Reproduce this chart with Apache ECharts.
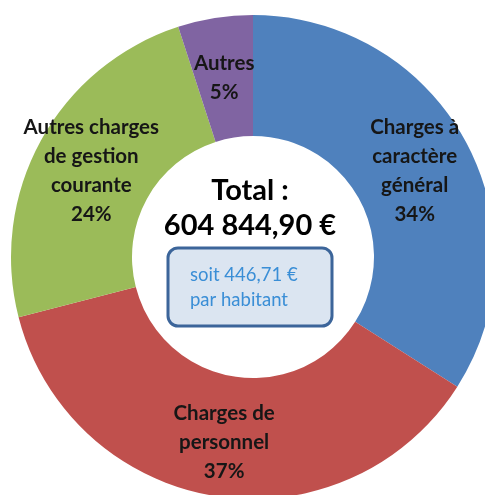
<!DOCTYPE html>
<html>
<head>
<meta charset="utf-8">
<script src="https://cdn.jsdelivr.net/npm/echarts@6/dist/echarts.min.js"></script>
<style>
  html, body { margin: 0; padding: 0; background: #fff; }
  #chart { width: 485px; height: 495px; }
</style>
</head>
<body>
<div id="chart"></div>
<script>
// postes de dépenses (sens horaire depuis midi)
var categories = ['Charges à\ncaractère\ngénéral', 'Charges de\npersonnel', 'Autres charges\nde gestion\ncourante', 'Autres'];
var percents = [34, 37, 24, 5];
var colors = ['#4f81bd', '#c0504d', '#9bbb59', '#8064a2'];
var totalText = ['Total :', '604 844,90 €'];
var perHabText = ['soit 446,71 €', 'par habitant'];

var dom = document.getElementById('chart');
var myChart = echarts.init(dom);

var pieData = [];
for (var i = 0; i < categories.length; i++) {
    pieData.push({ name: categories[i], value: percents[i], itemStyle: { color: colors[i] } });
}

var option = {
    backgroundColor: '#fff',
    animation: false,
    series: [{
        type: 'pie',
        center: [253, 257],
        radius: [121, 242],
        startAngle: 90,
        clockwise: true,
        silent: true,
        label: {
            show: true,
            position: 'inside',
            formatter: function (p) { return p.name + '\n' + p.value + '%'; },
            color: '#161616',
            fontFamily: 'Lato',
            fontWeight: 'bold',
            fontSize: 20.5,
            lineHeight: 29,
            align: 'center',
            offset: [0, 3]
        },
        labelLine: { show: false },
        itemStyle: { borderWidth: 0 },
        data: pieData
    }],
    graphic: [
        {
            type: 'text',
            x: 250, y: 176,
            style: { text: totalText[0], font: 'bold 29px Lato', fill: '#000', textAlign: 'center' }
        },
        {
            type: 'text',
            x: 250, y: 211,
            style: { text: totalText[1], font: 'bold 29px Lato', fill: '#000', textAlign: 'center' }
        },
        {
            type: 'rect',
            shape: { x: 168, y: 248, width: 164, height: 78, r: 10 },
            style: { fill: '#dbe5f1', stroke: '#3c659a', lineWidth: 3 }
        },
        {
            type: 'text',
            x: 190, y: 263,
            style: { text: perHabText[0] + '\n' + perHabText[1], font: '18.5px Lato', lineHeight: 25, fill: '#3a8ed6' }
        }
    ]
};

myChart.setOption(option);
</script>
</body>
</html>
